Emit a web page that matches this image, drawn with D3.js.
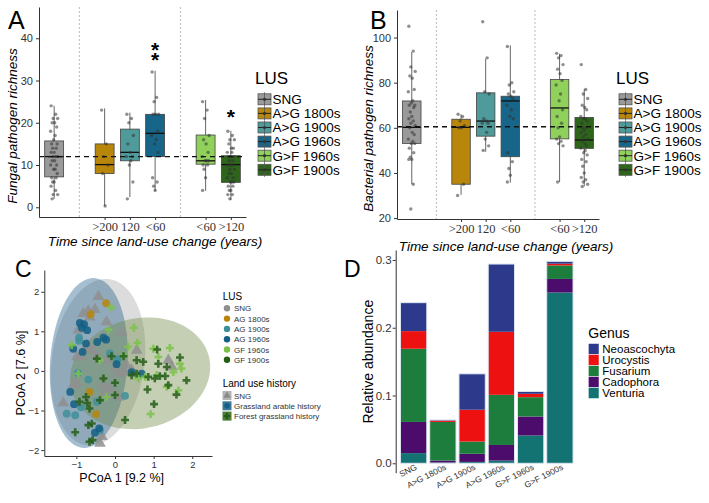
<!DOCTYPE html>
<html>
<head>
<meta charset="utf-8">
<script src="https://cdn.jsdelivr.net/npm/d3@7"></script>
<style>
body { margin: 0; background: #fff; }
svg { font-family: "Liberation Sans", Arial, sans-serif; }
.axis .domain, .axis line { stroke: #333; }
.axis text { fill: #333; }
.serif text { font-family: "Liberation Serif", "Times New Roman", serif; }
</style>
</head>
<body>
<div id="fig"></div>
<script>
// land use groups (shared by A, B, D)
var lus = ["SNG", "A>G 1800s", "A>G 1900s", "A>G 1960s", "G>F 1960s", "G>F 1900s"];
var lusColors = ["#9a9a9a", "#b8860b", "#4f9a9a", "#17668a", "#8fd15a", "#2d661b"];
var lusSlot = [1, 3, 4, 5, 7, 8];          // slots 2 and 6 hold the dashed separators
var slotLabels = {3: ">200", 4: "120", 5: "<60", 7: "<60", 8: ">120"};

// A: fungal pathogen richness, box = [low whisker, q1, median, q3, high whisker]
var fungalBox = [[2, 7.2, 12, 15.7, 24], [0.3, 8, 10.1, 15, 23.4], [2.4, 11, 13, 18.5, 22.4],
                 [3.9, 12, 17.5, 22, 32.3], [3.9, 10.2, 11, 17.1, 25.4], [1.7, 5.9, 10.1, 12.2, 18.1]];
var fungalPts = [
  [24,22,21,21,20,20,19,18,17,16,15,15,14,14,13,13,12,12,12,11,11,10,10,9,9,8,7,7,6,6,5,4,3,3,2],
  [23,15,12,10,8,0.3],
  [22,21,20,17,15,13,12,12,11,10,6,2],
  [32,26,25,22,22,22,18,17,16,15,13,7,6,5,4],
  [25,23,21,17,16,15,13,12,11,11,11,10,10,9,7,4],
  [18,17,16,16,15,14,14,13,13,12,12,12,11,11,10,10,10,9,9,8,8,7,7,6,6,6,5,5,4,4,3,3,2]];
var fungalRef = 12;
// significance stars: group index and the levels where each star sits
var fungalStars = [{g: 3, v: [38.2, 35.9]}, {g: 5, v: [22.4]}];

// B: bacterial pathogen richness
var bactBox = [[35.1, 53.1, 60.2, 71.9, 93.6], [30.3, 35, 60.2, 63.8, 66], [49.4, 56.3, 63, 75.5, 90.6],
               [35.7, 47.2, 71.9, 74, 96.5], [36, 55.1, 68.8, 81.4, 92.8], [34, 50.9, 54.6, 64.6, 77.1]];
var bactPts = [
  [105,94,87,85,83,82,77,76,72,71,70,70,69,67,65,64,63,62,61,60,58,57,55,54,53,53,51,49,47,46,46,35,24],
  [66,65,63,61,60,60,35,30],
  [107,91,76,75,64,63,62,62,58,55,52,50],
  [96,80,79,76,75,74,73,70,68,65,64,49,45,42,39,36],
  [93,92,91,88,86,84,81,79,75,72,68,65,62,60,56,55,54,53,52,36],
  [88,77,75,73,70,69,68,65,64,64,63,62,60,60,59,58,57,56,55,54,53,52,51,50,49,48,46,45,43,40,38,37,36,35,34]];
var bactRef = 60.5;

// C: PCoA
var pcoaGroups = ["SNG", "AG 1800s", "AG 1900s", "AG 1960s", "GF 1960s", "GF 1900s"];
var pcoaColors = ["#8f8f8f", "#b8860b", "#3f8f9a", "#135f85", "#7cc24a", "#245e17"];
var pcoaShape = ["tri", "circle", "circle", "circle", "cross", "cross"];
var pcoaPts = [
  [[-0.43,1.88],[-0.82,1.45],[-0.69,1.51],[-0.52,1.55],[-0.22,1.24],[-0.95,1.03],[-0.65,1.36],[0.17,0.98],[0.56,0.52],[-0.73,0.65],[-0.47,0.39],[-0.99,0.35],[-0.22,0.27],[0.30,0.14],[0.0,0.06],[0.09,-0.07],[-1.08,-0.36],[-0.30,-0.36],[-0.26,-0.57],[-1.34,-0.81],[0.26,-0.03],[1.38,0.27],[1.47,0.10],[-0.34,-1.66],[-0.39,-1.83],[-0.86,0.35],[-0.56,0.52],[0.43,0.02],[-0.99,-0.32],[-0.69,0.56],[-0.13,-0.45],[0.09,-0.66]],
  [[-0.23,1.71],[-0.63,1.43],[-0.66,-0.53],[-0.49,-1.09]],
  [[-0.93,0.84],[-0.93,0.76],[-0.69,-0.22],[-0.13,0.44],[-1.25,-1.08],[-1.03,-1.12],[0.26,-0.63],[-0.39,-1.50],[-0.88,-0.92],[-0.47,-0.78],[0.06,0.29],[-0.96,-0.05]],
  [[-0.91,1.21],[-0.80,1.18],[-0.86,1.09],[-0.72,1.03],[-1.08,0.56],[-0.84,0.48],[-0.46,0.73],[-0.30,0.84],[-0.23,0.79],[0.04,0.17],[-1.16,-0.53],[-0.52,-1.56],[-0.41,-1.45],[0.43,-0.03],[0.69,-0.07],[-1.06,-0.84],[-0.75,0.69]],
  [[-0.10,1.60],[-0.17,1.04],[-1.12,0.65],[0.49,1.09],[0.58,0.71],[0.99,0.56],[1.12,0.35],[1.42,0.58],[1.68,0.18],[1.72,0.06],[1.51,-0.03],[0.60,-0.19],[0.78,-0.15],[1.34,-0.40],[1.64,-0.49],[0.92,-1.09],[-0.22,-0.66],[-0.39,0.27],[1.08,-0.11],[0.22,0.39],[-0.95,-0.07],[0.34,0.61]],
  [[-0.09,0.37],[0.22,0.37],[0.56,0.27],[0.73,0.23],[1.09,0.54],[1.12,0.18],[1.34,0.10],[1.68,0.34],[1.16,-0.13],[1.30,-0.13],[1.03,-0.19],[0.86,-0.15],[0.84,-0.47],[1.38,-0.36],[1.59,-0.60],[1.85,-0.24],[1.01,-0.84],[0.26,-1.24],[0,-0.30],[0,-0.61],[-0.72,-0.81],[-0.66,-0.95],[-1.03,-1.55],[-0.66,-1.79],[-0.58,-1.75],[-0.60,-1.33],[-0.69,-1.37],[-0.92,-0.78],[-0.75,-0.66],[0.43,-0.11],[0.56,-0.07],[-0.30,-0.19],[-0.39,-0.74],[-0.47,0.31]]];
var historyNames = ["SNG", "Grassland arable history", "Forest grassland history"];
var historyFill = ["#a8a8a8", "#1f5f8b", "#6b8743"];
var historyKey = ["#b4b4b4", "#3d7898", "#4e7d38"];
var historyShape = ["tri", "circle", "cross"];
var historyMark = ["#8a8a8a", "#135f85", "#245e17"];
// ellipses: centre, radii (data units), rotation in degrees
var ellipses = [{cx: -0.44, cy: 0.22, rx: 1.2, ry: 2.12, angle: -8},
                {cx: -0.68, cy: 0.2, rx: 1.0, ry: 2.15, angle: -4},
                {cx: 0.65, cy: -0.06, rx: 1.83, ry: 1.39, angle: 12}];

// D: relative abundance of pathogen genera
var genus = ["Neoascochyta", "Urocystis", "Fusarium", "Cadophora", "Venturia"];
var genusColors = ["#2d3a8c", "#ee1111", "#1d7d3c", "#4b0c6b", "#137272"];
var venturia     = [0.015, 0.001, 0.002, 0.004, 0.041, 0.252];
var cadophora    = [0.046, 0.003, 0.012, 0.023, 0.028, 0.020];
var fusarium     = [0.108, 0.057, 0.018, 0.074, 0.0285, 0.020];
var urocystis    = [0.026, 0.002, 0.047, 0.093, 0.005, 0.0025];
var neoascochyta = [0.042, 0.001, 0.053, 0.100, 0.0035, 0.0035];

var jitter = [-0.6, 0.3, -0.2, 0.7, -0.4, 0.1, 0.5, -0.7, 0.2, -0.1, 0.6, -0.5, 0.4, -0.3, 0];

var svg = d3.select("#fig").append("svg")
  .attr("width", 709)
  .attr("height", 503);

function symbolFor(s) {
  if (s == "tri") return d3.symbolTriangle;
  if (s == "cross") return d3.symbolCross;
  return d3.symbolCircle;
}

//box plot panel (A and B)
function drawBoxPanel(o) {
  var g = svg.append("g");
  var x = d3.scaleLinear().domain([0.4, 8.6]).range([o.x0, o.x1]);
  var y = d3.scaleLinear().domain(o.yDomain).range([o.y1, o.y0]);
  var bw = (x(2) - x(1)) * 0.75;

  g.selectAll(".sep").data([2, 6]).enter().append("line")
    .attr("x1", function(d) { return x(d); })
    .attr("x2", function(d) { return x(d); })
    .attr("y1", o.y0).attr("y2", o.y1)
    .attr("stroke", "#a8a8a8").attr("stroke-width", 0.8)
    .attr("stroke-dasharray", "2,2");

  var box = g.selectAll(".box").data(o.box).enter().append("g");
  box.append("line")
    .attr("x1", function(d, i) { return x(lusSlot[i]); })
    .attr("x2", function(d, i) { return x(lusSlot[i]); })
    .attr("y1", function(d) { return y(d[0]); })
    .attr("y2", function(d) { return y(d[4]); })
    .attr("stroke", "#666").attr("stroke-width", 1);
  box.append("rect")
    .attr("x", function(d, i) { return x(lusSlot[i]) - bw / 2; })
    .attr("y", function(d) { return y(d[3]); })
    .attr("width", bw)
    .attr("height", function(d) { return y(d[1]) - y(d[3]); })
    .attr("fill", function(d, i) { return lusColors[i]; })
    .attr("stroke", "#444").attr("stroke-width", 0.8);
  box.append("line")
    .attr("x1", function(d, i) { return x(lusSlot[i]) - bw / 2; })
    .attr("x2", function(d, i) { return x(lusSlot[i]) + bw / 2; })
    .attr("y1", function(d) { return y(d[2]); })
    .attr("y2", function(d) { return y(d[2]); })
    .attr("stroke", "#111").attr("stroke-width", 1.3);

  var pts = [];
  o.pts.forEach(function(arr, i) {
    arr.forEach(function(v, j) { pts.push({g: i, v: v, j: j}); });
  });
  g.selectAll(".pt").data(pts).enter().append("circle")
    .attr("cx", function(d) { return x(lusSlot[d.g] + jitter[d.j % jitter.length] * 0.2); })
    .attr("cy", function(d) { return y(d.v); })
    .attr("r", 1.7)
    .attr("fill", "#333").attr("fill-opacity", 0.55);

  g.append("line")
    .attr("x1", o.x0).attr("x2", o.x1)
    .attr("y1", y(o.ref)).attr("y2", y(o.ref))
    .attr("stroke", "#111").attr("stroke-width", 1.4)
    .attr("stroke-dasharray", "5,4");

  var ya = g.append("g").attr("class", "axis")
    .attr("transform", "translate(" + o.x0 + ",0)")
    .call(d3.axisLeft(y).tickValues(o.yTicks).tickSize(3).tickSizeOuter(0).tickPadding(3));
  ya.selectAll("text").style("font-size", "11px");
  var xa = g.append("g").attr("class", "axis serif")
    .attr("transform", "translate(0," + o.y1 + ")")
    .call(d3.axisBottom(x).tickValues([3, 4, 5, 7, 8])
      .tickFormat(function(d) { return slotLabels[d]; })
      .tickSize(3).tickSizeOuter(0).tickPadding(2));
  xa.attr("font-family", "Liberation Serif");
  xa.selectAll("text").style("font-size", "12.5px").attr("fill", "#111");

  g.append("text").attr("x", o.letterX).attr("y", 29)
    .style("font-size", "25px").text(o.letter);
  g.append("text")
    .attr("transform", "translate(" + o.titleX + "," + ((o.y0 + o.y1) / 2 + 14) + ") rotate(-90)")
    .style("text-anchor", "middle").style("font-size", "13.5px").style("font-style", "italic")
    .text(o.yTitle);
  g.append("text").attr("x", o.xTitleX).attr("y", o.xTitleY)
    .style("text-anchor", "middle").style("font-size", "13.5px").style("font-style", "italic")
    .text("Time since land-use change (years)");

  if (o.stars) {
    // one text per group, one tspan per star so stacked stars stay one label
    g.selectAll(".star").data(o.stars).enter().append("text")
      .style("text-anchor", "middle").style("font-size", "21px").style("font-weight", "bold")
      .each(function(d) {
        var t = d3.select(this);
        d.v.forEach(function(v) {
          t.append("tspan").attr("x", x(lusSlot[d.g])).attr("y", y(v) + 11).text("*");
        });
      });
  }

  // legend
  var lg = g.append("g").attr("transform", "translate(" + o.legX + ",0)");
  lg.append("text").attr("x", -2).attr("y", 84).style("font-size", "17px").text("LUS");
  var item = lg.selectAll(".key").data(lus).enter().append("g")
    .attr("transform", function(d, i) { return "translate(0," + (99.3 + i * 14.1) + ")"; });
  item.append("rect").attr("x", 1).attr("y", -5.5).attr("width", 13).attr("height", 11)
    .attr("fill", function(d, i) { return lusColors[i]; })
    .attr("stroke", "#555").attr("stroke-width", 0.8);
  item.append("line").attr("x1", 7.5).attr("x2", 7.5).attr("y1", -7).attr("y2", 7)
    .attr("stroke", "#555").attr("stroke-width", 0.8);
  item.append("line").attr("x1", 1).attr("x2", 14).attr("y1", 0).attr("y2", 0)
    .attr("stroke", "#222").attr("stroke-width", 1);
  item.append("circle").attr("cx", 7.5).attr("cy", 0).attr("r", 1.6).attr("fill", "#333");
  item.append("text").attr("x", 15.5).attr("y", 4.8).style("font-size", "13.5px")
    .text(function(d) { return d; });
}

drawBoxPanel({letter: "A", letterX: 8, x0: 39, x1: 246, y0: 7, y1: 217,
  yDomain: [-2.3, 47.4], yTicks: [0, 10, 20, 30, 40], box: fungalBox, pts: fungalPts,
  ref: fungalRef, stars: fungalStars, yTitle: "Fungal pathogen richness", titleX: 17,
  xTitleX: 155, xTitleY: 246, legX: 257});

drawBoxPanel({letter: "B", letterX: 370, x0: 397, x1: 599, y0: 10, y1: 219,
  yDomain: [19.6, 112.2], yTicks: [20, 40, 60, 80, 100], box: bactBox, pts: bactPts,
  ref: bactRef, stars: null, yTitle: "Bacterial pathogen richness", titleX: 373,
  xTitleX: 506, xTitleY: 251, legX: 618});

//Panel C, PCoA
var gc = svg.append("g");
var xC = d3.scaleLinear().domain([-1.83, 2.51]).range([44.3, 212]);
var yC = d3.scaleLinear().domain([-2.15, 2.55]).range([456, 270]);

function ellipsePath(e) {
  var r = e.angle * Math.PI / 180;
  var pts = d3.range(0, 361, 4).map(function(a) {
    var t = a * Math.PI / 180;
    var ex = e.rx * Math.cos(t), ey = e.ry * Math.sin(t);
    return [xC(e.cx + ex * Math.cos(r) - ey * Math.sin(r)), yC(e.cy + ex * Math.sin(r) + ey * Math.cos(r))];
  });
  return d3.line()(pts) + "Z";
}
gc.selectAll(".ell").data(ellipses).enter().append("path")
  .attr("d", ellipsePath)
  .attr("fill", function(d, i) { return historyFill[i]; })
  .attr("fill-opacity", 0.4);

var cpts = [];
pcoaPts.forEach(function(arr, i) { arr.forEach(function(p) { cpts.push({g: i, x: p[0], y: p[1]}); }); });
gc.selectAll(".cp").data(cpts).enter().append("path")
  .attr("transform", function(d) { return "translate(" + xC(d.x) + "," + yC(d.y) + ")"; })
  .attr("d", function(d) {
    var s = pcoaShape[d.g];
    return d3.symbol().type(symbolFor(s)).size(s == "tri" ? 60 : (s == "cross" ? 34 : 48))();
  })
  .attr("fill", function(d) { return pcoaColors[d.g]; })
  .attr("fill-opacity", 0.85);

var cya = gc.append("g").attr("class", "axis").attr("transform", "translate(44.3,0)")
  .call(d3.axisLeft(yC).tickValues([-2, -1, 0, 1, 2]).tickFormat(d3.format("d"))
    .tickSize(3).tickSizeOuter(0).tickPadding(2));
cya.selectAll("text").style("font-size", "9.5px");
var cxa = gc.append("g").attr("class", "axis").attr("transform", "translate(0,456)")
  .call(d3.axisBottom(xC).tickValues([-1, 0, 1, 2]).tickFormat(d3.format("d"))
    .tickSize(3).tickSizeOuter(0).tickPadding(2));
cxa.selectAll("text").style("font-size", "9.5px");
gc.selectAll(".axis .domain").attr("stroke", "#555");

gc.append("text").attr("x", 15).attr("y", 277).style("font-size", "23px").text("C");
gc.append("text").attr("x", 121.7).attr("y", 482).style("text-anchor", "middle")
  .style("font-size", "12.5px").text("PCoA 1 [9.2 %]");
gc.append("text").attr("transform", "translate(25,373) rotate(-90)").style("text-anchor", "middle")
  .style("font-size", "12.5px").text("PCoA 2 [7.6 %]");

// legends of C
gc.append("text").attr("x", 222.7).attr("y", 300).style("font-size", "10px").text("LUS");
var ci = gc.selectAll(".ckey").data(pcoaGroups).enter().append("g")
  .attr("transform", function(d, i) { return "translate(227," + (308.3 + i * 10.3) + ")"; });
ci.append("circle").attr("r", 3.2).attr("fill", function(d, i) { return pcoaColors[i]; });
ci.append("text").attr("x", 7).attr("y", 3).style("font-size", "8px").attr("fill", "#333")
  .text(function(d) { return d; });

gc.append("text").attr("x", 222.7).attr("y", 387).style("font-size", "10px").text("Land use history");
var hi = gc.selectAll(".hkey").data(historyNames).enter().append("g")
  .attr("transform", function(d, i) { return "translate(227," + (395.5 + i * 10.3) + ")"; });
hi.append("rect").attr("x", -4.5).attr("y", -4.5).attr("width", 9).attr("height", 9)
  .attr("fill", function(d, i) { return historyKey[i]; });
hi.append("path")
  .attr("d", function(d, i) { return d3.symbol().type(symbolFor(historyShape[i])).size(24)(); })
  .attr("fill", function(d, i) { return historyMark[i]; });
hi.append("text").attr("x", 7).attr("y", 3).style("font-size", "8px").attr("fill", "#333")
  .text(function(d) { return d; });

//Panel D, stacked bars
var gd = svg.append("g");
var dRows = lus.map(function(name, i) {
  return {group: name, Venturia: venturia[i], Cadophora: cadophora[i], Fusarium: fusarium[i],
          Urocystis: urocystis[i], Neoascochyta: neoascochyta[i]};
});
var stackKeys = genus.slice().reverse();   // Venturia at the bottom
var series = d3.stack().keys(stackKeys)(dRows);
var xD = d3.scaleBand().domain(lus).range([399, 574.5]).paddingInner(0.1).paddingOuter(0.05);
var yD = d3.scaleLinear().domain([-0.0139, 0.3147]).range([472.7, 250]);
var gColor = d3.scaleOrdinal().domain(genus).range(genusColors);

gd.selectAll(".layer").data(series).enter().append("g")
  .attr("fill", function(d) { return gColor(d.key); })
  .selectAll("rect").data(function(d) { return d; }).enter().append("rect")
  .attr("x", function(d) { return xD(d.data.group); })
  .attr("width", xD.bandwidth())
  .attr("y", function(d) { return yD(d[1]); })
  .attr("height", function(d) { return yD(d[0]) - yD(d[1]); });
// thin light outline round each bar
gd.selectAll(".outline").data(series[series.length - 1]).enter().append("rect")
  .attr("x", function(d) { return xD(d.data.group); })
  .attr("width", xD.bandwidth())
  .attr("y", function(d) { return yD(d[1]); })
  .attr("height", function(d) { return yD(0) - yD(d[1]); })
  .attr("fill", "none").attr("stroke", "#dfe8f2").attr("stroke-width", 1);

var dya = gd.append("g").attr("class", "axis").attr("transform", "translate(395.7,0)")
  .call(d3.axisLeft(yD).tickValues([0, 0.1, 0.2, 0.3]).tickFormat(d3.format(".1f"))
    .tickSize(3).tickSizeOuter(0).tickPadding(1));
dya.selectAll("text").style("font-size", "11.5px");
dya.select(".domain").attr("stroke", "#888");

gd.selectAll(".dlab").data(lus).enter().append("text")
  .attr("transform", function(d) {
    return "translate(" + (xD(d) + xD.bandwidth() / 2 + 4) + ",469) rotate(-27)";
  })
  .style("text-anchor", "end").style("font-size", "8.5px").attr("fill", "#333")
  .text(function(d) { return d; });

gd.append("text").attr("x", 344).attr("y", 277).style("font-size", "23px").text("D");
gd.append("text").attr("transform", "translate(372.5,361.7) rotate(-90)").style("text-anchor", "middle")
  .style("font-size", "14px").text("Relative abundance");

gd.append("text").attr("x", 588.3).attr("y", 338).style("font-size", "14px").text("Genus");
var di = gd.selectAll(".dkey").data(genus).enter().append("g")
  .attr("transform", function(d, i) { return "translate(588.3," + (349 + i * 11) + ")"; });
di.append("rect").attr("x", 0).attr("y", -5.5).attr("width", 10.7).attr("height", 11)
  .attr("fill", function(d) { return gColor(d); })
  .attr("stroke", "#fff").attr("stroke-width", 0.5);
di.append("text").attr("x", 14).attr("y", 4).style("font-size", "11.5px")
  .text(function(d) { return d; });
</script>
</body>
</html>
